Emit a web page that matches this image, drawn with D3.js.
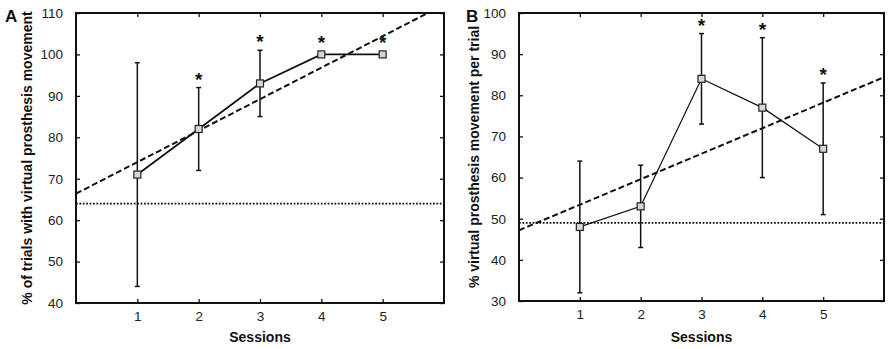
<!DOCTYPE html>
<html>
<head>
<meta charset="utf-8">
<script src="https://cdn.jsdelivr.net/npm/d3@7"></script>
<style>
  body { margin: 0; background: #fff; }
  svg { display: block; font-family: "Liberation Sans", Arial, sans-serif; }
</style>
</head>
<body>
<svg id="chart" width="892" height="349"></svg>
<script>
// session numbers shared by both panels
const sessions = [1, 2, 3, 4, 5];

// panel A: % of trials with virtual prosthesis movement
const meanA = [71, 82, 93, 100, 100];
const lowA = [44, 72, 85, 100, 100];
const highA = [98, 92, 101, 100, 100];
const starA = [false, true, true, true, true];
const chanceA = 64;
const trendA = [66.4, 7.6]; // intercept, slope

// panel B: % virtual prosthesis movement per trial
const meanB = [48, 53, 84, 77, 67];
const lowB = [32, 43, 73, 60, 51];
const highB = [64, 63, 95, 94, 83];
const starB = [false, false, true, true, true];
const chanceB = 49;
const trendB = [47.2, 6.2];

const ticksA = [40, 50, 60, 70, 80, 90, 100, 110];
const ticksB = [30, 40, 50, 60, 70, 80, 90, 100];

const svg = d3.select('#chart');

function panel(opt) {
	const g = svg.append('g');
	const x = d3.scaleLinear().domain([0, 6]).range([opt.left, opt.right]);
	const y = d3.scaleLinear().domain(opt.yDomain).range([opt.bottom, opt.top]);

	const clipId = 'clip' + opt.letter;
	svg.append('clipPath').attr('id', clipId)
		.append('rect')
		.attr('x', opt.left).attr('y', opt.top)
		.attr('width', opt.right - opt.left).attr('height', opt.bottom - opt.top);

	// axes, ticks inward on all four sides
	const tk = 4;
	g.append('g').attr('transform', `translate(0,${opt.bottom})`)
		.call(d3.axisBottom(x).tickValues(sessions).tickFormat(d3.format('d'))
			.tickSizeInner(-tk).tickSizeOuter(0).tickPadding(8));
	g.append('g').attr('transform', `translate(0,${opt.top})`)
		.call(d3.axisTop(x).tickValues(sessions).tickSizeInner(-tk).tickSizeOuter(0).tickFormat(''));
	g.append('g').attr('transform', `translate(${opt.left},0)`)
		.call(d3.axisLeft(y).tickValues(opt.ticks).tickFormat(d3.format('d'))
			.tickSizeInner(-tk).tickSizeOuter(0).tickPadding(13));
	g.append('g').attr('transform', `translate(${opt.right},0)`)
		.call(d3.axisRight(y).tickValues(opt.ticks).tickSizeInner(-tk).tickSizeOuter(0).tickFormat(''));
	g.selectAll('.domain').remove();
	g.selectAll('.tick line').attr('stroke', '#111').attr('stroke-width', 1.3);
	g.selectAll('.tick text').attr('font-size', 13.5).attr('fill', '#222')
		.attr('font-family', '"Liberation Sans", Arial, sans-serif');

	g.append('rect')
		.attr('x', opt.left).attr('y', opt.top)
		.attr('width', opt.right - opt.left).attr('height', opt.bottom - opt.top)
		.attr('fill', 'none').attr('stroke', '#111').attr('stroke-width', 2);

	const inner = g.append('g').attr('clip-path', `url(#${clipId})`);

	// chance level
	inner.append('line')
		.attr('x1', opt.left).attr('x2', opt.right)
		.attr('y1', y(opt.chance)).attr('y2', y(opt.chance))
		.attr('stroke', '#111').attr('stroke-width', 1.8).attr('stroke-dasharray', '1.8,1.6');

	// regression line
	inner.append('line')
		.attr('x1', x(0)).attr('y1', y(opt.trend[0]))
		.attr('x2', x(6)).attr('y2', y(opt.trend[0] + opt.trend[1] * 6))
		.attr('stroke', '#111').attr('stroke-width', 2).attr('stroke-dasharray', '6,3');

	// error bars
	const cap = 2.5;
	sessions.forEach((s, i) => {
		if (opt.high[i] === opt.low[i]) return;
		const eb = g.append('g').attr('stroke', '#111').attr('stroke-width', 1.5);
		eb.append('line').attr('x1', x(s)).attr('x2', x(s)).attr('y1', y(opt.low[i])).attr('y2', y(opt.high[i]));
		eb.append('line').attr('x1', x(s) - cap).attr('x2', x(s) + cap).attr('y1', y(opt.low[i])).attr('y2', y(opt.low[i]));
		eb.append('line').attr('x1', x(s) - cap).attr('x2', x(s) + cap).attr('y1', y(opt.high[i])).attr('y2', y(opt.high[i]));
	});

	// mean line
	g.append('path')
		.datum(opt.mean)
		.attr('fill', 'none').attr('stroke', '#111').attr('stroke-width', opt.lineWidth)
		.attr('d', d3.line().x((d, i) => x(sessions[i])).y(d => y(d)));

	// markers
	const m = 7;
	g.selectAll(null).data(opt.mean).join('rect')
		.attr('x', (d, i) => x(sessions[i]) - m / 2)
		.attr('y', d => y(d) - m / 2)
		.attr('width', m).attr('height', m)
		.attr('fill', '#d6d6d6').attr('stroke', '#222').attr('stroke-width', 1.2);

	// significance stars, above the error bar or the marker
	g.selectAll(null).data(sessions.filter((s, i) => opt.star[i])).join('text')
		.attr('x', s => x(s))
		.attr('y', s => Math.min(y(opt.high[s - 1]), y(opt.mean[s - 1]) - m / 2) - 2)
		.attr('text-anchor', 'middle')
		.attr('font-size', 19).attr('font-weight', 'bold').attr('fill', '#111')
		.text('*');

	// axis titles
	g.append('text')
		.attr('x', (opt.left + opt.right) / 2).attr('y', 342)
		.attr('text-anchor', 'middle')
		.attr('font-size', 14).attr('font-weight', 'bold').attr('fill', '#111')
		.text('Sessions');
	g.append('text')
		.attr('transform', `translate(${opt.labelX},${(opt.top + opt.bottom) / 2}) rotate(-90)`)
		.attr('text-anchor', 'middle')
		.attr('font-size', 14).attr('font-weight', 'bold').attr('fill', '#111')
		.text(opt.label);

	g.append('text')
		.attr('x', opt.letterX).attr('y', 22)
		.attr('font-size', 17).attr('font-weight', 'bold').attr('fill', '#111')
		.text(opt.letter);
}

panel({
	letter: 'A', letterX: 5, labelX: 32,
	left: 76, right: 444, top: 13, bottom: 303,
	yDomain: [40, 110], ticks: ticksA,
	mean: meanA, low: lowA, high: highA, star: starA,
	chance: chanceA, trend: trendA, lineWidth: 1.8,
	label: '% of trials with virtual prosthesis movement'
});

panel({
	letter: 'B', letterX: 466, labelX: 479,
	left: 519, right: 884, top: 13, bottom: 301,
	yDomain: [30, 100], ticks: ticksB,
	mean: meanB, low: lowB, high: highB, star: starB,
	chance: chanceB, trend: trendB, lineWidth: 1.2,
	label: '% virtual prosthesis movement per trial'
});
</script>
</body>
</html>
